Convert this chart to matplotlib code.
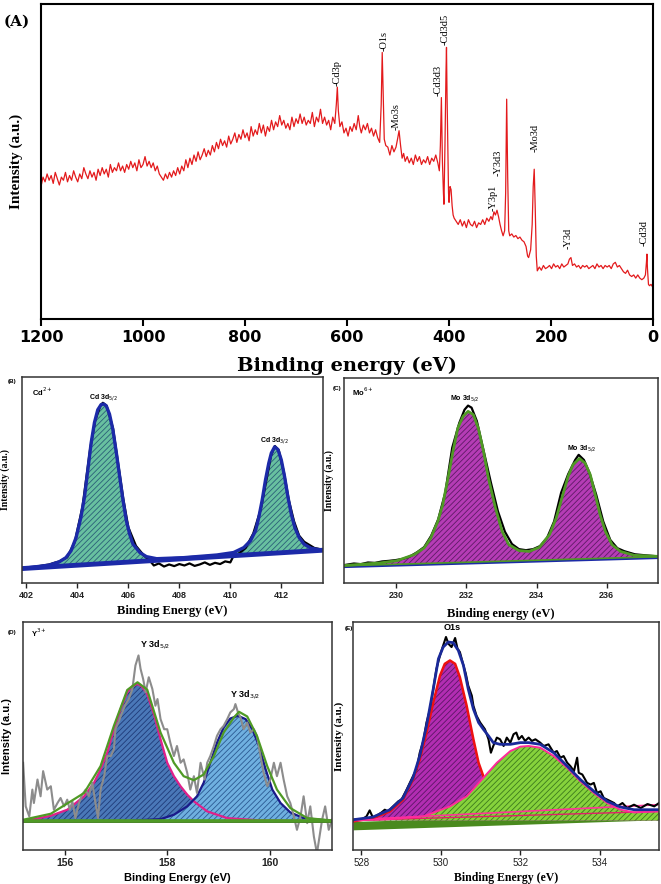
import matplotlib
matplotlib.use('Agg')
import matplotlib.pyplot as plt

plt.rcParams['hatch.linewidth'] = 0.6

SANS = 'Liberation Sans'
SERIF = 'Liberation Serif'

# ---------------- (A) survey spectrum ----------------
survey_e = [1200, 1196, 1192, 1188, 1184, 1180, 1176, 1172, 1168, 1164, 1160, 1156, 1152, 1148, 1144, 1140,
            1136, 1132, 1128, 1124, 1120, 1116, 1112, 1108, 1104, 1100, 1096, 1092, 1088, 1084, 1080, 1076,
            1072, 1068, 1064, 1060, 1056, 1052, 1048, 1044, 1040, 1036, 1032, 1028, 1024, 1020, 1016, 1012,
            1008, 1004, 1000, 996, 992, 988, 984, 980, 976, 972, 968, 964, 960, 956, 952, 948, 944, 940,
            936, 932, 928, 924, 920, 916, 912, 908, 904, 900, 896, 892, 888, 884, 880, 876, 872, 868, 864,
            860, 856, 852, 848, 844, 840, 836, 832, 828, 824, 820, 816, 812, 808, 804, 800, 796, 792, 788,
            784, 780, 776, 772, 768, 764, 760, 756, 752, 748, 744, 740, 736, 732, 728, 724, 720, 716, 712,
            708, 704, 700, 696, 692, 688, 684, 680, 676, 672, 668, 664, 660, 656, 652, 648, 644, 640, 636,
            632, 628, 624, 621, 619, 617, 614, 610, 606, 602, 598, 594, 590, 586, 582, 578, 575, 572, 568,
            564, 560, 556, 552, 548, 544, 540, 536, 533, 531, 529, 527, 524, 520, 516, 512, 508, 504, 501,
            498, 495, 492, 489, 486, 482, 478, 474, 470, 466, 462, 458, 454, 450, 446, 442, 438, 434, 430,
            426, 422, 419, 417, 415, 413, 411, 410, 408, 406, 405, 404, 402, 401, 400, 398, 396, 394, 392,
            390, 386, 382, 378, 374, 370, 366, 362, 358, 354, 350, 346, 342, 338, 334, 330, 326, 322, 318,
            315, 312, 309, 306, 303, 300, 297, 294, 291, 289, 287, 285, 283, 281, 277, 273, 269, 265, 261,
            257, 253, 249, 246, 244, 240, 237, 235, 233, 231, 229, 227, 223, 219, 215, 211, 207, 203, 199,
            195, 191, 187, 183, 179, 175, 171, 167, 164, 161, 158, 154, 150, 146, 142, 138, 134, 130, 126,
            122, 118, 114, 110, 106, 102, 98, 94, 90, 86, 82, 78, 74, 70, 66, 62, 58, 54, 50, 46, 42, 38,
            34, 30, 26, 22, 18, 15, 13, 12, 11, 9, 7, 4, 2, 0]
survey_i = [42, 45, 43.5, 46, 44, 45.5, 43, 46.5, 44.5, 42.5, 45, 44, 46.5, 43.5, 45.5, 44,
            47, 45, 43.5, 46, 44.5, 48, 46, 44.5, 47, 45, 46.5, 44, 47.5, 45.5, 48, 46,
            47.5, 45, 49, 46.5, 48, 47, 49.5, 47, 48.5, 46.5, 49, 47.5, 50, 48, 49.5, 47,
            50.5, 48, 49, 51.5, 48.5, 50, 48, 49.5, 47, 48.5, 46, 45, 44, 46, 44.5, 46.5, 45, 47,
            45.5, 48, 46, 48.5, 47, 50.5, 48, 51, 49, 52, 50, 53, 50.5, 52, 54, 51.5, 53.5, 52, 55,
            53, 56, 54, 57, 55, 56.5, 54.5, 58, 55.5, 57, 59, 56, 58.5, 57, 60, 57.5, 59, 56.5, 61,
            58, 60, 58.5, 62, 59, 61.5, 58, 61, 59.5, 63, 60, 62.5, 61, 64.5, 61.5, 63, 60.5, 62, 60,
            64, 61, 63.5, 62, 65, 62, 64, 61.5, 63, 62, 65.5, 61, 64, 62.5, 66.5, 62, 64, 61.5, 63,
            60, 64, 62, 68, 73.5, 66, 61, 62.5, 59, 60.5, 58, 61, 59.5, 62, 60, 64.5, 61, 59, 61.5,
            60, 62, 59, 60.5, 58, 60, 57.5, 56, 68, 84.5, 70, 57, 55, 54.5, 52, 55, 53, 54.5, 57,
            59.7, 55, 51, 52.5, 50, 51.5, 49.5, 51, 49, 52, 50, 51.5, 49, 50.5, 49.5, 51.5, 49, 51, 50,
            52, 49.5, 47, 55, 70.2, 50, 40, 36.4, 55, 78, 86.1, 72, 50, 40, 37, 42, 41, 36, 33,
            32, 31, 30, 31.5, 29.5, 31, 29, 31.5, 30, 29.5, 31, 29, 30.5, 30, 31.5, 30, 32, 31, 32.5,
            31.5, 34, 33, 34.5, 32.5, 30, 28, 26.4, 28, 40, 69.7, 45, 28, 26.4, 27, 26, 26.5, 25.5, 26,
            25, 24.5, 23, 20, 19.5, 22, 30, 42, 47.5, 35, 20, 15.3, 16.5, 15.5, 17, 16, 16.4, 17, 16,
            17.5, 16.5, 17, 16, 17.5, 16.5, 17, 17.5, 19, 19.5, 17, 17.5, 16.5, 17, 16, 17, 16.5, 17, 16,
            16.5, 17, 16, 17.5, 16.5, 17, 16, 17, 16.5, 17, 16, 17.5, 18, 16.5, 17, 16, 15, 14.5, 15.5, 14, 13.5, 14,
            13, 14, 13, 12.5, 13, 14, 18, 20.6, 16, 11, 10.6, 11, 10.5, 10]

peak_names = ['-Cd3p', '-O1s', '-Mo3s', '-Cd3d3', '-Cd3d5', '-Y3p1', '-Y3d3', '-Mo3d', '-Y3d', '-Cd3d']
peak_e = [620, 528, 504, 422, 407, 313, 304, 232, 167, 18]
peak_lab_i = [74, 85, 60, 70.7, 87, 34.3, 45.4, 52.8, 22.2, 23.2]

# ---------------- (B) Cd 3d ----------------
cd_e = [401.82, 402.89, 403.29, 403.55, 403.75, 403.95, 404.14, 404.28, 404.41, 404.54, 404.67, 404.80,
        404.93, 405.03, 405.13, 405.26, 405.39, 405.53, 405.66, 405.79, 405.92, 406.05, 406.18, 406.45,
        406.71, 407.11, 408.16, 409.47, 410.13, 410.53, 410.79, 410.99, 411.12, 411.25, 411.38, 411.51,
        411.61, 411.74, 411.87, 412.00, 412.13, 412.26, 412.39, 412.53, 412.70, 412.89, 413.16, 413.62]
cd_fit = [0.070, 0.087, 0.103, 0.123, 0.156, 0.221, 0.320, 0.418, 0.549, 0.680, 0.779, 0.841,
          0.866, 0.869, 0.861, 0.820, 0.746, 0.631, 0.516, 0.402, 0.303, 0.238, 0.189, 0.148,
          0.128, 0.118, 0.123, 0.136, 0.148, 0.172, 0.205, 0.254, 0.320, 0.402, 0.500, 0.582,
          0.631, 0.661, 0.648, 0.598, 0.516, 0.418, 0.336, 0.270, 0.221, 0.189, 0.169, 0.159]
cd_bg_e = [401.82, 413.62]
cd_bg = [0.070, 0.159]
cd_raw_e = [401.82, 402.3, 402.9, 403.1, 403.3, 403.6, 403.9, 404.2, 404.5, 404.7, 404.9, 405.0, 405.15,
            405.4, 405.6, 405.8, 406.0, 406.3, 406.6, 406.9, 407.0, 407.2, 407.4, 407.6, 407.8, 408.0,
            408.2, 408.4, 408.6, 408.8, 409.0, 409.2, 409.4, 409.6, 409.8, 410.0, 410.1, 410.3, 410.6,
            410.9, 411.2, 411.4, 411.6, 411.75, 411.9, 412.1, 412.3, 412.5, 412.7, 412.9, 413.1, 413.3, 413.62]
cd_raw = [0.072, 0.078, 0.090, 0.098, 0.105, 0.125, 0.20, 0.37, 0.65, 0.79, 0.86, 0.875, 0.86,
          0.75, 0.58, 0.41, 0.27, 0.18, 0.135, 0.10, 0.085, 0.095, 0.08, 0.09, 0.082, 0.092,
          0.085, 0.095, 0.083, 0.09, 0.10, 0.088, 0.098, 0.092, 0.105, 0.10, 0.125, 0.14, 0.17,
          0.24, 0.36, 0.49, 0.62, 0.665, 0.645, 0.54, 0.40, 0.30, 0.23, 0.20, 0.185, 0.17, 0.162]

# ---------------- (C) Mo 3d ----------------
mo_e = [228.51, 229.55, 230.03, 230.51, 230.80, 230.99, 231.19, 231.33, 231.48, 231.62, 231.76, 231.91,
        232.05, 232.20, 232.34, 232.49, 232.63, 232.83, 233.02, 233.21, 233.50, 233.79, 234.08, 234.37,
        234.56, 234.75, 234.90, 235.04, 235.22, 235.38, 235.53, 235.67, 235.81, 235.96, 236.15, 236.39,
        236.78, 237.45]
mo_fit = [0.085, 0.098, 0.109, 0.138, 0.171, 0.220, 0.301, 0.382, 0.512, 0.642, 0.756, 0.813,
          0.837, 0.821, 0.756, 0.642, 0.512, 0.366, 0.252, 0.187, 0.158, 0.154, 0.174, 0.236,
          0.317, 0.431, 0.520, 0.577, 0.607, 0.585, 0.528, 0.431, 0.333, 0.252, 0.187, 0.154,
          0.135, 0.130]
mo_bg_e = [228.51, 237.45]
mo_bg = [0.078, 0.122]
mo_raw_e = [228.55, 228.8, 229.0, 229.2, 229.4, 229.6, 229.8, 230.0, 230.2, 230.4, 230.6, 230.8, 231.0,
            231.2, 231.4, 231.6, 231.8, 231.95, 232.05, 232.15, 232.3, 232.5, 232.7, 232.9, 233.1, 233.3,
            233.5, 233.7, 233.9, 234.1, 234.3, 234.5, 234.7, 234.9, 235.1, 235.2, 235.35, 235.5, 235.7,
            235.9, 236.1, 236.3, 236.5, 236.8, 237.1, 237.45]
mo_raw = [0.088, 0.095, 0.092, 0.10, 0.098, 0.105, 0.108, 0.112, 0.118, 0.13, 0.15, 0.175, 0.23,
          0.31, 0.44, 0.66, 0.78, 0.845, 0.865, 0.855, 0.79, 0.64, 0.49, 0.35, 0.25, 0.19,
          0.165, 0.16, 0.165, 0.18, 0.22, 0.3, 0.44, 0.53, 0.6, 0.625, 0.6, 0.54, 0.43,
          0.30, 0.21, 0.17, 0.155, 0.14, 0.135, 0.13]

# ---------------- (D) Y 3d ----------------
y1_e = [155.19, 155.40, 155.73, 156.05, 156.38, 156.57, 156.70, 156.83, 156.96, 157.09, 157.22, 157.32,
        157.42, 157.51, 157.61, 157.74, 157.87, 158.00, 158.13, 158.26, 158.39, 158.52, 158.78, 159.17,
        159.82, 161.21]
y1_i = [88, 92, 102, 120, 160, 200, 240, 290, 360, 420, 470, 488,
        495, 487, 465, 405, 330, 260, 220, 190, 165, 145, 115, 95, 88, 85]
y2_e = [157.35, 157.87, 158.13, 158.39, 158.58, 158.71, 158.84, 158.97, 159.10, 159.23, 159.38, 159.53,
        159.66, 159.79, 159.92, 160.05, 160.21, 160.40, 160.66, 161.21]
y2_i = [88, 92, 105, 130, 160, 200, 260, 320, 365, 392, 400, 390,
        360, 310, 240, 180, 140, 112, 95, 87]
yfit_e = [155.19, 155.73, 156.38, 156.70, 156.96, 157.22, 157.42, 157.61, 157.87, 158.13, 158.32, 158.52,
          158.71, 158.91, 159.10, 159.30, 159.40, 159.56, 159.75, 159.95, 160.14, 160.40, 160.73, 161.21]
yfit_i = [90, 108, 170, 250, 370, 477, 500, 478, 350, 260, 220, 208,
          225, 280, 350, 395, 412, 398, 340, 250, 180, 125, 95, 88]
yraw_e = [155.19, 155.24, 155.31, 155.37, 155.40, 155.47, 155.53, 155.58, 155.66, 155.73, 155.79, 155.86,
          155.92, 155.99, 156.05, 156.10, 156.15, 156.21, 156.28, 156.34, 156.41, 156.47, 156.54, 156.60,
          156.65, 156.70, 156.77, 156.83, 156.90, 156.96, 156.99, 157.06, 157.12, 157.19, 157.25, 157.32,
          157.38, 157.44, 157.48, 157.53, 157.58, 157.64, 157.71, 157.77, 157.81, 157.87, 157.94, 158.00,
          158.06, 158.13, 158.19, 158.26, 158.32, 158.39, 158.45, 158.52, 158.58, 158.65, 158.73, 158.78,
          158.84, 158.91, 158.97, 159.04, 159.10, 159.17, 159.23, 159.30, 159.33, 159.38, 159.43, 159.49,
          159.56, 159.62, 159.69, 159.75, 159.82, 159.88, 159.95, 160.01, 160.08, 160.14, 160.21, 160.27,
          160.34, 160.40, 160.47, 160.53, 160.60, 160.66, 160.73, 160.79, 160.86, 160.92, 160.97, 161.02,
          161.08, 161.15, 161.21]
yraw_i = [260, 130, 100, 180, 140, 210, 160, 235, 180, 190, 120, 140,
          155, 130, 150, 120, 145, 95, 140, 165, 180, 160, 200, 140,
          95, 180, 220, 280, 280, 300, 360, 385, 410, 435, 450, 480,
          550, 580, 540, 510, 470, 515, 480, 430, 450, 390, 360, 360,
          320, 280, 310, 260, 270, 230, 180, 220, 170, 260, 210, 260,
          280, 310, 340, 360, 370, 390, 410, 420, 435, 410, 395, 360,
          380, 350, 360, 340, 280, 230, 190, 210, 260, 220, 260, 210,
          160, 140, 100, 60, 100, 160, 80, 130, 40, -10, 40, 90,
          130, 60, 90]
y_bg = 85

# ---------------- (E) O 1s ----------------
o1_e = [527.79, 528.29, 528.72, 529.05, 529.30, 529.47, 529.64, 529.81, 529.98, 530.10, 530.23, 530.36,
        530.48, 530.65, 530.82, 530.95, 531.07, 531.32, 531.83, 532.50, 535.49]
o1_i = [85, 95, 115, 150, 210, 270, 350, 440, 520, 555, 565, 555,
        515, 430, 330, 260, 220, 140, 100, 95, 105]
o2_e = [527.79, 528.72, 529.56, 530.23, 530.65, 531.07, 531.41, 531.75, 532.00, 532.21, 532.50, 532.84,
        533.18, 533.51, 533.85, 534.19, 534.52, 534.86, 535.49]
o2_i = [88, 92, 100, 130, 160, 215, 260, 295, 308, 310, 305, 280,
        245, 205, 170, 140, 120, 112, 115]
ofit_e = [527.79, 528.29, 528.72, 529.05, 529.30, 529.47, 529.64, 529.81, 529.94, 530.06, 530.19, 530.31,
          530.44, 530.57, 530.69, 530.82, 530.95, 531.07, 531.20, 531.32, 531.49, 531.75, 532.00, 532.21,
          532.50, 532.84, 533.18, 533.51, 533.85, 534.19, 534.52, 534.86, 535.49]
ofit_i = [90, 98, 120, 155, 215, 280, 370, 480, 570, 605, 620, 618,
          595, 550, 480, 420, 380, 360, 340, 320, 315, 315, 320, 320,
          315, 290, 250, 210, 175, 145, 128, 120, 120]
oraw_e = [527.79, 527.92, 528.00, 528.13, 528.21, 528.29, 528.42, 528.51, 528.59, 528.67, 528.80, 528.93,
          529.01, 529.14, 529.22, 529.30, 529.39, 529.47, 529.56, 529.64, 529.73, 529.81, 529.89, 529.98,
          530.06, 530.13, 530.19, 530.27, 530.36, 530.42, 530.48, 530.57, 530.63, 530.69, 530.78, 530.82,
          530.90, 530.99, 531.11, 531.20, 531.26, 531.32, 531.41, 531.49, 531.58, 531.66, 531.75, 531.83,
          531.90, 531.96, 532.04, 532.12, 532.21, 532.29, 532.38, 532.50, 532.59, 532.71, 532.84, 532.92,
          533.01, 533.09, 533.18, 533.26, 533.35, 533.43, 533.47, 533.56, 533.68, 533.77, 533.85, 533.93,
          534.02, 534.10, 534.19, 534.36, 534.44, 534.57, 534.69, 534.86, 535.03, 535.20, 535.37, 535.49]
oraw_i = [90, 92, 90, 100, 118, 97, 105, 112, 120, 115, 130, 145,
          150, 180, 200, 220, 240, 290, 325, 380, 420, 480, 540, 580,
          610, 635, 615, 605, 632, 600, 590, 550, 525, 490, 460, 430,
          400, 380, 360, 330, 290, 310, 335, 330, 310, 335, 320, 345,
          350, 330, 340, 325, 335, 325, 330, 320, 310, 315, 290, 295,
          275, 280, 260, 250, 235, 275, 230, 225, 200, 195, 200, 170,
          175, 155, 150, 140, 130, 140, 125, 135, 125, 137, 130, 140]
o_bg_e = [527.79, 535.49]
o_bg_top = [85, 112]
o_bg_low = [60, 90]
o_pink1 = [90, 135]
o_pink2 = [88, 115]


def style_small(ax, xticks, tickfont, tickweight, tick_size):
    ax.set_yticks([])
    ax.set_xticks(xticks)
    ax.set_xticklabels([str(t) for t in xticks], fontfamily=tickfont, fontweight=tickweight,
                       fontsize=tick_size)
    ax.tick_params(axis='x', direction='out', length=3.5, width=1.0, pad=2, colors='#222222')
    for s in ax.spines.values():
        s.set_linewidth(1.1)
        s.set_color('#333333')


def linear_bg(e_list, bg_e, bg):
    return [bg[0] + (bg[1] - bg[0]) * (e - bg_e[0]) / (bg_e[1] - bg_e[0]) for e in e_list]


fig = plt.figure(figsize=(6.61, 8.84), dpi=100)

# ---- panel A ----
axA = fig.add_axes([0.062, 0.639, 0.926, 0.357])
axA.plot(survey_e, survey_i, color='#e31a1c', lw=0.9)
axA.set_xlim(1200, 0)
axA.set_ylim(0, 100)
axA.set_yticks([])
axA.set_xticks([1200, 1000, 800, 600, 400, 200, 0])
axA.set_xticklabels(['1200', '1000', '800', '600', '400', '200', '0'],
                    fontfamily='DejaVu Sans', fontweight='bold', fontsize=11.5)
axA.tick_params(axis='x', direction='out', length=5, width=1.5, pad=3)
for s in axA.spines.values():
    s.set_linewidth(1.5)
for name, e, i in zip(peak_names, peak_e, peak_lab_i):
    axA.text(e, i, name, rotation=90, ha='center', va='bottom', fontsize=7.5, fontfamily=SERIF)
axA.set_xlabel('Binding energy (eV)', fontfamily='DejaVu Serif', fontweight='bold', fontsize=14)
axA.xaxis.set_label_coords(0.5, -0.12)
axA.set_ylabel('Intensity (a.u.)', fontfamily=SERIF, fontweight='bold', fontsize=11)
axA.yaxis.set_label_coords(-0.03, 0.5)
fig.text(0.006, 0.976, '(A)', fontfamily='DejaVu Serif', fontweight='bold', fontsize=11, va='center')

# ---- panel B ----
axB = fig.add_axes([0.033, 0.3405, 0.455, 0.233])
axB.plot(cd_raw_e, cd_raw, color='black', lw=1.6)
axB.fill_between(cd_e, linear_bg(cd_e, cd_bg_e, cd_bg), cd_fit,
                 facecolor='#68c0a0', edgecolor='#2a5f78', hatch='//////', lw=0)
axB.plot(cd_e, cd_fit, color='#1c2aa8', lw=2.4)
axB.plot(cd_bg_e, cd_bg, color='#1c2aa8', lw=3.5)
axB.set_xlim(401.82, 413.62)
axB.set_ylim(0, 1)
style_small(axB, [402, 404, 406, 408, 410, 412], SANS, 'bold', 6.5)
axB.set_xlabel('Binding Energy (eV)', fontfamily=SERIF, fontweight='bold', fontsize=9)
axB.xaxis.set_label_coords(0.5, -0.107)
axB.set_ylabel('Intensity (a.u.)', fontfamily=SERIF, fontweight='bold', fontsize=7)
axB.yaxis.set_label_coords(-0.04, 0.5)
axB.text(405.03, 0.90, 'Cd 3d$_{5/2}$', ha='center', va='center', fontsize=5, fontfamily=SANS, fontweight='bold')
axB.text(411.74, 0.693, 'Cd 3d$_{3/2}$', ha='center', va='center', fontsize=5, fontfamily=SANS, fontweight='bold')
axB.text(0.035, 0.93, 'Cd$^{2+}$', transform=axB.transAxes, fontsize=5.5, fontfamily=SANS, fontweight='bold', va='center')
fig.text(0.011, 0.568, '(B)', fontfamily=SANS, fontweight='bold', fontsize=4.5, va='center')

# ---- panel C ----
axC = fig.add_axes([0.520, 0.3405, 0.475, 0.232])
axC.plot(mo_raw_e, mo_raw, color='black', lw=1.6)
axC.fill_between(mo_e, linear_bg(mo_e, mo_bg_e, mo_bg), mo_fit,
                 facecolor='#b53cb5', edgecolor='#5e1a66', hatch='//////', lw=0)
axC.plot(mo_bg_e, mo_bg, color='#1c2aa8', lw=1.6)
axC.plot(mo_e, mo_fit, color='#4f9a25', lw=2.0)
axC.plot(mo_bg_e, [mo_bg[0] + 0.006, mo_bg[1] + 0.006], color='#4f9a25', lw=1.2)
axC.set_xlim(228.51, 237.45)
axC.set_ylim(0, 1)
style_small(axC, [230, 232, 234, 236], SANS, 'bold', 6.5)
axC.set_xlabel('Binding energy (eV)', fontfamily=SERIF, fontweight='bold', fontsize=9)
axC.xaxis.set_label_coords(0.5, -0.122)
axC.set_ylabel('Intensity (a.u.)', fontfamily=SERIF, fontweight='bold', fontsize=7)
axC.yaxis.set_label_coords(-0.032, 0.5)
axC.text(231.96, 0.90, 'Mo 3d$_{5/2}$', ha='center', va='center', fontsize=5, fontfamily=SANS, fontweight='bold')
axC.text(235.28, 0.654, 'Mo 3d$_{5/2}$', ha='center', va='center', fontsize=5, fontfamily=SANS, fontweight='bold')
axC.text(0.025, 0.93, 'Mo$^{6+}$', transform=axC.transAxes, fontsize=5.5, fontfamily=SANS, fontweight='bold', va='center')
fig.text(0.503, 0.560, '(C)', fontfamily=SANS, fontweight='bold', fontsize=4.5, va='center')

# ---- panel D ----
axD = fig.add_axes([0.035, 0.0385, 0.467, 0.258])
axD.fill_between(y1_e, y_bg, y1_i, facecolor='#4a78b8', edgecolor='#1f3a78', hatch='//////', lw=0)
axD.fill_between(y2_e, y_bg, y2_i, facecolor='#6fb0e0', edgecolor='#2b5a92', hatch='//////', lw=0)
axD.plot(y1_e, y1_i, color='#e0208a', lw=1.6)
axD.plot(y2_e, y2_i, color='#1a1a8a', lw=1.6)
axD.plot(yraw_e, yraw_i, color='#8c8c8c', lw=1.5)
axD.plot(yfit_e, yfit_i, color='#4f9a25', lw=1.6)
axD.axhline(y_bg - 2, color='#222222', lw=1.2)
axD.axhline(y_bg, color='#4f9a25', lw=2.6)
axD.set_xlim(155.19, 161.21)
axD.set_ylim(0, 680)
style_small(axD, [156, 158, 160], SANS, 'bold', 7.5)
axD.set_xlabel('Binding Energy (eV)', fontfamily=SANS, fontweight='bold', fontsize=8)
axD.xaxis.set_label_coords(0.5, -0.1)
axD.set_ylabel('Intensity (a.u.)', fontfamily=SANS, fontweight='bold', fontsize=8)
axD.yaxis.set_label_coords(-0.035, 0.5)
axD.text(157.77, 612, 'Y 3d$_{5/2}$', ha='center', va='center', fontsize=6.5, fontfamily=SANS, fontweight='bold')
axD.text(159.53, 462, 'Y 3d$_{3/2}$', ha='center', va='center', fontsize=6.5, fontfamily=SANS, fontweight='bold')
axD.text(0.025, 0.95, 'Y$^{3+}$', transform=axD.transAxes, fontsize=5.5, fontfamily=SANS, fontweight='bold', va='center')
fig.text(0.011, 0.285, '(D)', fontfamily=SANS, fontweight='bold', fontsize=4.5, va='center')

# ---- panel E ----
axE = fig.add_axes([0.534, 0.0385, 0.463, 0.258])
axE.fill_between(o_bg_e, o_bg_low, o_bg_top, color='#4a8a1e', lw=0)
axE.fill_between(o1_e, 88, o1_i, facecolor='#b22db2', edgecolor='#5c1566', hatch='//////', lw=0)
axE.fill_between(o2_e, 88, o2_i, facecolor='#86d23c', edgecolor='#3c7a1c', hatch='//////', lw=0)
axE.plot(o_bg_e, o_pink1, color='#ff3399', lw=1.2)
axE.plot(o_bg_e, o_pink2, color='#e0206a', lw=1.0)
axE.plot(oraw_e, oraw_i, color='black', lw=1.5)
axE.plot(o1_e[:17], o1_i[:17], color='#ee1111', lw=1.8)
axE.plot(o2_e, o2_i, color='#ff2a9a', lw=1.4)
axE.plot(ofit_e, ofit_i, color='#1a2a9a', lw=2.0)
axE.set_xlim(527.79, 535.49)
axE.set_ylim(0, 680)
style_small(axE, [528, 530, 532, 534], SANS, 'normal', 7)
axE.set_xlabel('Binding Energy (eV)', fontfamily=SERIF, fontweight='bold', fontsize=8.5)
axE.xaxis.set_label_coords(0.5, -0.095)
axE.set_ylabel('Intensity (a.u.)', fontfamily=SERIF, fontweight='bold', fontsize=8)
axE.yaxis.set_label_coords(-0.03, 0.5)
axE.text(530.29, 662, 'O1s', ha='center', va='center', fontsize=6.5, fontfamily=SANS, fontweight='bold')
fig.text(0.522, 0.289, '(E)', fontfamily=SANS, fontweight='bold', fontsize=4.5, va='center')

fig.savefig('out.png', dpi=100)
